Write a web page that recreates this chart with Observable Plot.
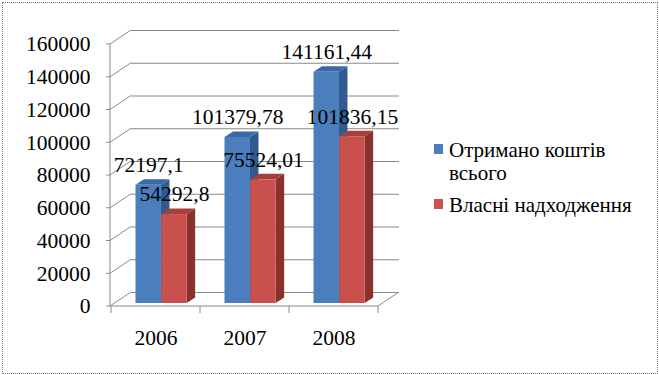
<!DOCTYPE html>
<html><head><meta charset="utf-8">
<script src="https://cdn.jsdelivr.net/npm/d3@7"></script>
<script src="https://cdn.jsdelivr.net/npm/@observablehq/plot@0.6"></script>
<style>
body{margin:0;background:#fff;}
#wrap{position:relative;width:659px;height:375px;overflow:hidden;}
#border{position:absolute;left:2px;top:2px;width:656px;height:372px;border:1px dotted #777;box-sizing:border-box;}
#chart{position:absolute;left:0;top:0;}
.lg{position:absolute;left:434px;width:230px;}
.lg .sw{position:absolute;left:0;width:9px;height:10px;}
.lg .tx{position:absolute;left:15px;width:200px;font-size:21px;line-height:23px;color:#000;}
</style></head><body>
<div id="wrap"><div id="border"></div><div id="chart"></div><div id="legend"></div></div>
<script>
const years = ["2006", "2007", "2008"];
const totalFunds = [72197.1, 101379.78, 141161.44];
const ownRevenue = [54292.8, 75524.01, 101836.15];
const seriesNames = ["Отримано коштів всього", "Власні надходження"];
const yTicks = [0, 20000, 40000, 60000, 80000, 100000, 120000, 140000, 160000];

const FONT = "Liberation Serif";
const blue = {front: "#4a7ebd", side: "#2f5b90", top: "#3b69a6"};
const red = {front: "#c8504d", side: "#8a302d", top: "#a63e3b"};

const WX = 21, WY = -14;       // wall depth
const BDY = -3;                 // bars offset from front plane
const DX = 8.5, DY = -5.5;      // bar depth
const BL = 24.5, BM = 50.3, BR = 76;  // bar positions within band (px)

const rows = years.map((y, i) => ({year: y, total: totalFunds[i], own: ownRevenue[i]}));
const fmt = v => String(v).replace(".", ",");

function faces(key, color, inL, inR) {
  return (index, {x, y}) => {
    const g = d3.create("svg:g");
    const bw = x.bandwidth();
    rows.forEach(r => {
      const x0 = x(r.year) + inL, x1 = x(r.year) + bw - inR;
      const yb = y(0) + BDY, yt = y(r[key]) + BDY;
      g.append("path").attr("fill", color.side)
        .attr("d", `M${x1},${yt}L${x1 + DX},${yt + DY}L${x1 + DX},${yb + DY}L${x1},${yb}Z`);
      g.append("path").attr("fill", color.top)
        .attr("d", `M${x0},${yt}L${x0 + DX},${yt + DY}L${x1 + DX},${yt + DY}L${x1},${yt}Z`);
    });
    return g.node();
  };
}

function frame3d(index, {x, y}, values, dim) {
  const g = d3.create("svg:g").attr("stroke", "#8a8a8a").attr("fill", "none");
  const xl = dim.marginLeft, xr = dim.width - dim.marginRight;
  const y0 = y(0);
  yTicks.forEach(t => {
    const yy = y(t);
    g.append("path").attr("d", `M${xl},${yy}L${xl + WX},${yy + WY}`);
    g.append("path").attr("d", `M${xl - 4},${yy}L${xl},${yy}`);
  });
  g.append("path").attr("d", `M${xl},${y(yTicks[yTicks.length - 1])}L${xl},${y0}`);
  g.append("path").attr("d", `M${xl},${y0}L${xr},${y0}L${xr + WX},${y0 + WY}`);
  const bw = x.bandwidth();
  years.concat([null]).forEach(yr => {
    const xx = yr === null ? x(years[years.length - 1]) + bw : x(yr);
    g.append("path").attr("d", `M${xx},${y0}L${xx},${y0 + 7}`);
  });
  return g.node();
}

const BW = (378 - 110) / 3;

const chart = Plot.plot({
  width: 659, height: 375,
  marginLeft: 110, marginRight: 659 - 378, marginTop: 44, marginBottom: 375 - 306,
  style: {fontFamily: FONT, fontSize: "21.5px", background: "transparent", overflow: "visible"},
  x: {domain: years, padding: 0, label: null},
  y: {domain: [0, 160000], label: null},
  marks: [
    Plot.ruleY(yTicks, {dx: WX, dy: WY, stroke: "#8a8a8a"}),
    frame3d,
    faces("total", blue, BL, BW - BM),
    Plot.barY(rows, {x: "year", y: "total", fill: blue.front, insetLeft: BL, insetRight: BW - BM, dy: BDY}),
    faces("own", red, BM, BW - BR),
    Plot.barY(rows, {x: "year", y: "own", fill: red.front, insetLeft: BM, insetRight: BW - BR, dy: BDY}),
    Plot.text(rows, {x: "year", y: "total", text: d => fmt(d.total), dx: (BL + BM) / 2 - BW / 2, dy: BDY - 20, fill: "#000", fontSize: 21.5}),
    Plot.text(rows, {x: "year", y: "own", text: d => fmt(d.own), dx: (BM + BR) / 2 - BW / 2, dy: BDY - 20, fill: "#000", fontSize: 21.5}),
    Plot.axisY({ticks: yTicks, tickSize: 0, tickPadding: 20, tickFormat: d => String(d), fontSize: 21.5}),
    Plot.axisX({tickSize: 0, tickPadding: 23, fontSize: 21.5})
  ]
});
document.getElementById("chart").appendChild(chart);

const legend = document.getElementById("legend");
const lgTops = [138.5, 193.5];
seriesNames.forEach((name, i) => {
  const item = document.createElement("div");
  item.className = "lg";
  item.style.top = lgTops[i] + "px";
  const sw = document.createElement("div");
  sw.className = "sw";
  sw.style.top = "5px";
  sw.style.background = [blue, red][i].front;
  const tx = document.createElement("div");
  tx.className = "tx";
  tx.style.fontFamily = FONT;
  tx.textContent = name;
  item.appendChild(sw); item.appendChild(tx);
  legend.appendChild(item);
});
</script>
</body></html>
